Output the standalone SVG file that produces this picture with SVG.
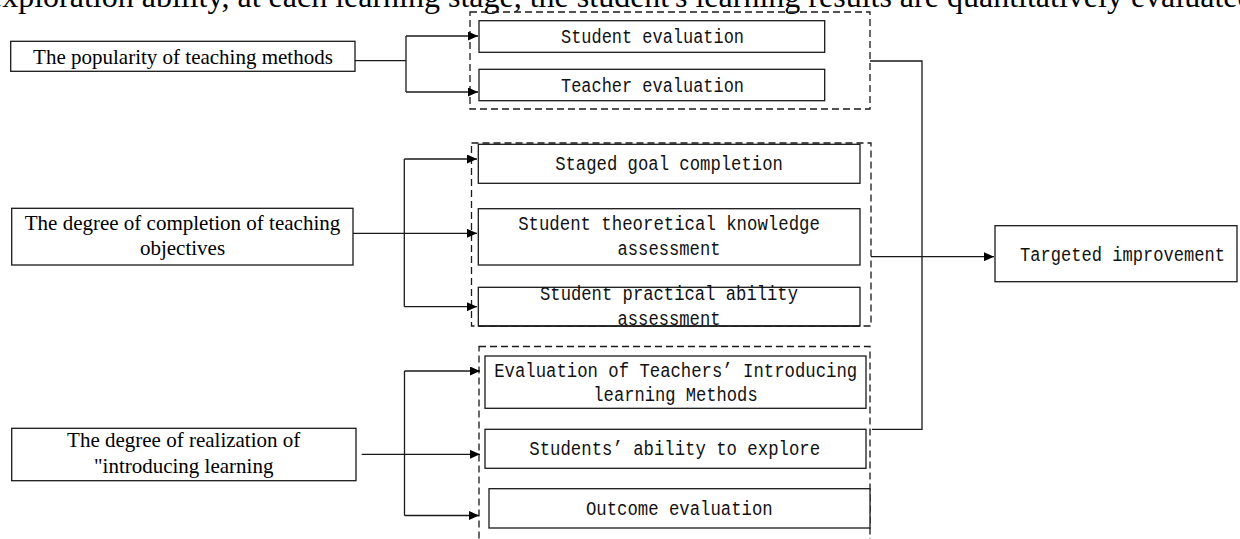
<svg xmlns="http://www.w3.org/2000/svg" width="1240" height="539" viewBox="0 0 1240 539">
<style>
.bg{fill:#ffffff}
.box{fill:#ffffff;stroke:#1a1a1a;stroke-width:1.3}
.dash{fill:none;stroke:#1a1a1a;stroke-width:1.3;stroke-dasharray:7 4}
.ln{fill:none;stroke:#1a1a1a;stroke-width:1.3}
.ser{font-family:"Liberation Serif","Times New Roman",serif;font-size:21px;fill:#000;text-anchor:middle}
.mono{font-family:"Liberation Mono","Courier New",monospace;font-size:20px;fill:#111;text-anchor:middle}
.top{font-family:"Liberation Serif","Times New Roman",serif;font-size:32px;fill:#000}
</style>
<defs>
<marker id="ah" markerUnits="userSpaceOnUse" markerWidth="10" markerHeight="9" refX="10" refY="4.5" orient="auto">
<path d="M0,0 L10,4.5 L0,9 z" fill="#000"/>
</marker>
</defs>
<rect class="bg" x="0" y="0" width="1240" height="539"/>
<text class="top" x="-12" y="7">exploration ability, at each learning stage, the student's learning results are quantitatively evaluated</text>

<g id="groups">
<rect id="group1" class="dash" x="470" y="12" width="400" height="97"/>
<rect id="group2" class="dash" x="471.5" y="143" width="399.5" height="183"/>
<rect id="group3" class="dash" x="479" y="346.5" width="391" height="200"/>
</g>

<g id="connectors">
<polyline class="ln" points="355,60.7 406,60.7"/>
<polyline class="ln" points="406,36 406,92"/>
<polyline class="ln" points="406,36 478,36" marker-end="url(#ah)"/>
<polyline class="ln" points="406,92 478,92" marker-end="url(#ah)"/>

<polyline class="ln" points="353,233.3 477,233.3" marker-end="url(#ah)"/>
<polyline class="ln" points="404.3,159 404.3,306.7"/>
<polyline class="ln" points="404.3,159 477,159" marker-end="url(#ah)"/>
<polyline class="ln" points="404.3,306.7 477,306.7" marker-end="url(#ah)"/>

<polyline class="ln" points="361.7,454.3 480,454.3" marker-end="url(#ah)"/>
<polyline class="ln" points="404.5,371 404.5,515.5"/>
<polyline class="ln" points="404.5,371 480,371" marker-end="url(#ah)"/>
<polyline class="ln" points="404.5,515.5 479,515.5" marker-end="url(#ah)"/>

<polyline class="ln" points="870,61 922,61 922,429.3 872,429.3"/>
<polyline class="ln" points="871,256.7 994,256.7" marker-end="url(#ah)"/>
</g>

<g id="n-popularity">
<rect class="box" x="10.7" y="41.3" width="344.3" height="30"/>
<text class="ser" x="183" y="64">The popularity of teaching methods</text>
</g>
<g id="n-completion">
<rect class="box" x="11.7" y="208.3" width="341.3" height="56.7"/>
<text class="ser" x="182.5" y="230">The degree of completion of teaching</text>
<text class="ser" x="182.5" y="255">objectives</text>
</g>
<g id="n-realization">
<rect class="box" x="11.7" y="428.3" width="344.3" height="52.4"/>
<text class="ser" x="183.7" y="447">The degree of realization of</text>
<text class="ser" x="183.7" y="473">"introducing learning</text>
</g>

<g id="n-student-eval">
<rect class="box" x="479" y="20.7" width="345.7" height="31.6"/>
<text class="mono" x="652.5" y="43" textLength="183" lengthAdjust="spacingAndGlyphs">Student evaluation</text>
</g>
<g id="n-teacher-eval">
<rect class="box" x="479" y="69.3" width="345.7" height="31.4"/>
<text class="mono" x="652.5" y="92" textLength="183" lengthAdjust="spacingAndGlyphs">Teacher evaluation</text>
</g>

<g id="n-staged">
<rect class="box" x="478.3" y="144.3" width="381.7" height="39"/>
<text class="mono" x="669" y="170" textLength="227.7" lengthAdjust="spacingAndGlyphs">Staged goal completion</text>
</g>
<g id="n-theoretical">
<rect class="box" x="478.3" y="208.7" width="381.7" height="56.3"/>
<text class="mono" x="669" y="230" textLength="301.7" lengthAdjust="spacingAndGlyphs">Student theoretical knowledge</text>
<text class="mono" x="669" y="255" textLength="103" lengthAdjust="spacingAndGlyphs">assessment</text>
</g>
<g id="n-practical">
<rect class="box" x="478.3" y="287.3" width="381.7" height="38.7"/>
<text class="mono" x="669" y="300" textLength="258" lengthAdjust="spacingAndGlyphs">Student practical ability</text>
<text class="mono" x="669" y="325" textLength="103" lengthAdjust="spacingAndGlyphs">assessment</text>
<line class="ln" x1="478.3" y1="326" x2="860" y2="326"/>
</g>

<g id="n-eval-teachers">
<rect class="box" x="485" y="356" width="381" height="52.3"/>
<text class="mono" x="675.7" y="377" textLength="363" lengthAdjust="spacingAndGlyphs">Evaluation of Teachers’ Introducing</text>
<text class="mono" x="675.5" y="401" textLength="164.3" lengthAdjust="spacingAndGlyphs">learning Methods</text>
</g>
<g id="n-explore">
<rect class="box" x="485" y="429.3" width="381" height="39"/>
<text class="mono" x="674.7" y="455" textLength="290.7" lengthAdjust="spacingAndGlyphs">Students’ ability to explore</text>
</g>
<g id="n-outcome">
<rect class="box" x="489" y="488.7" width="381" height="39.3"/>
<text class="mono" x="679.3" y="515" textLength="186.7" lengthAdjust="spacingAndGlyphs">Outcome evaluation</text>
</g>

<g id="n-targeted">
<rect class="box" x="995" y="225.7" width="242" height="56"/>
<text class="mono" x="1122.5" y="261" font-size="18" textLength="205" lengthAdjust="spacingAndGlyphs">Targeted improvement</text>
</g>
</svg>
